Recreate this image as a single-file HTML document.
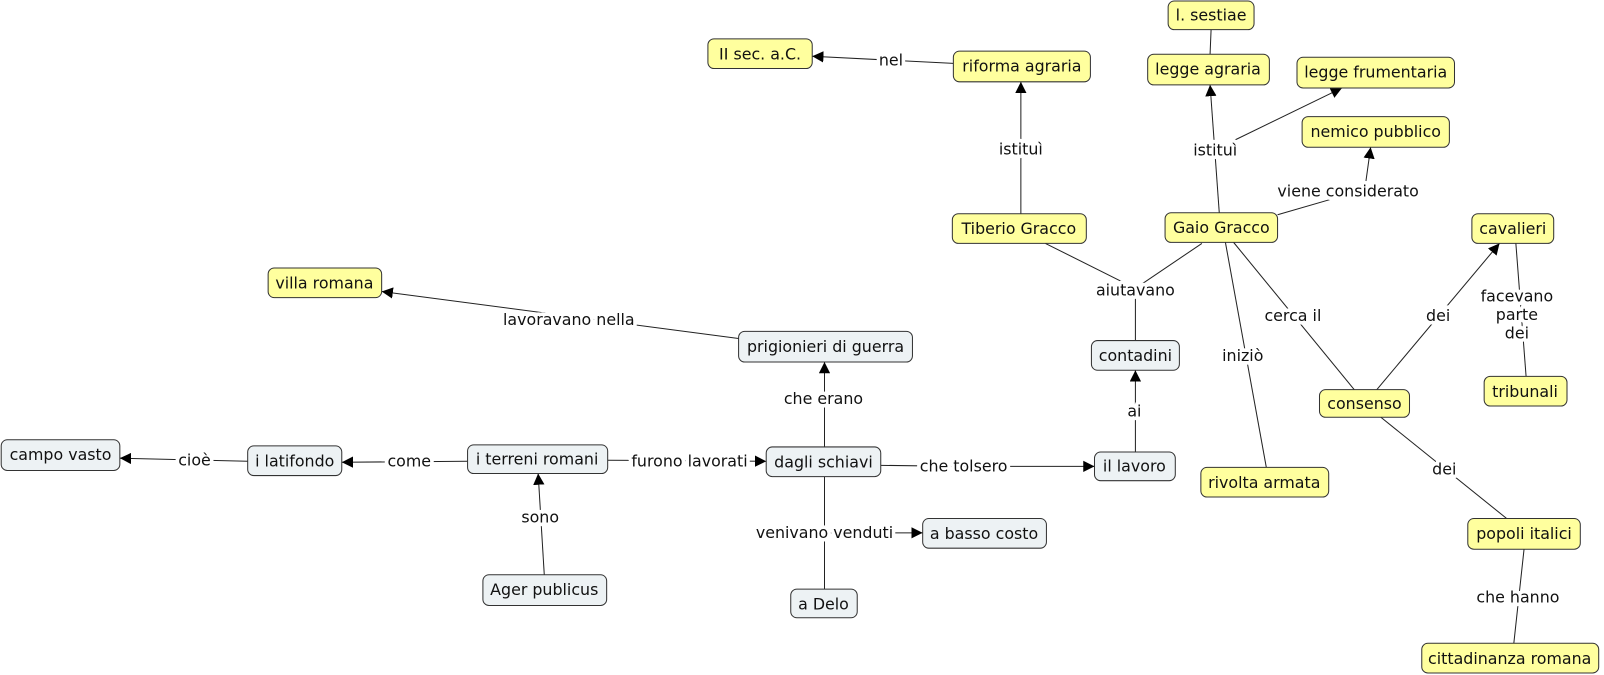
<!DOCTYPE html>
<html><head><meta charset="utf-8"><style>
html,body{margin:0;padding:0;background:#fff;width:1604px;height:675px;overflow:hidden}
svg{display:block}
text{font-family:"DejaVu Sans","Liberation Sans",sans-serif;font-size:15.5px;fill:#111}
.lab text{stroke:#fff;stroke-width:7px;paint-order:stroke;stroke-linejoin:round}
.y{fill:#ffff9e;stroke:#333;stroke-width:1}
.b{fill:#edf2f4;stroke:#333;stroke-width:1}
.l{stroke:#222;stroke-width:1;fill:none}
</style></head><body>
<svg width="1604" height="675" viewBox="0 0 1568 660" xmlns="http://www.w3.org/2000/svg">
<defs><marker id="a" viewBox="0 0 10 10" refX="10" refY="5" markerWidth="11" markerHeight="11" orient="auto" markerUnits="userSpaceOnUse"><path d="M0,0L10,5L0,10z" fill="#000"/></marker></defs>
<g class="l">
<line x1="932" y1="62" x2="794" y2="55" marker-end="url(#a)"/>
<line x1="998" y1="209" x2="998" y2="80" marker-end="url(#a)"/>
<line x1="1184" y1="29" x2="1183" y2="53"/>
<line x1="1192" y1="208" x2="1183" y2="83" marker-end="url(#a)"/>
<line x1="1205" y1="138" x2="1312" y2="86" marker-end="url(#a)"/>
<line x1="1249" y1="210" x2="1318" y2="190"/><line x1="1335" y1="180" x2="1340" y2="144" marker-end="url(#a)"/>
<line x1="1022" y1="238" x2="1110" y2="282"/><line x1="1175" y1="238" x2="1110" y2="282"/><line x1="1110" y1="285" x2="1110" y2="333"/>
<line x1="1110" y1="442" x2="1110" y2="362" marker-end="url(#a)"/>
<line x1="1198" y1="237" x2="1238" y2="457"/>
<line x1="1206" y1="237" x2="1324" y2="381"/>
<line x1="1346" y1="381" x2="1466" y2="238" marker-end="url(#a)"/>
<line x1="1482" y1="238" x2="1492" y2="368"/>
<line x1="1350" y1="408" x2="1473" y2="507"/>
<line x1="1490" y1="537" x2="1480" y2="629"/>
<line x1="722" y1="331" x2="373" y2="285" marker-end="url(#a)"/>
<line x1="806" y1="437" x2="806" y2="354" marker-end="url(#a)"/>
<line x1="861" y1="455" x2="940" y2="456"/><line x1="940" y1="456" x2="1070" y2="456" marker-end="url(#a)"/>
<line x1="806" y1="466" x2="806" y2="576"/>
<line x1="806" y1="521" x2="902" y2="521" marker-end="url(#a)"/>
<line x1="594" y1="450" x2="749" y2="451" marker-end="url(#a)"/>
<line x1="457" y1="451" x2="334" y2="452" marker-end="url(#a)"/>
<line x1="242" y1="451" x2="117" y2="448" marker-end="url(#a)"/>
<line x1="532" y1="562" x2="526" y2="463" marker-end="url(#a)"/>
</g>
<g>
<rect class="y" x="692" y="38" width="102" height="29" rx="6"/>
<rect class="y" x="932" y="50" width="134" height="30" rx="6"/>
<rect class="y" x="1142" y="1" width="84" height="28" rx="6"/>
<rect class="y" x="1122" y="53" width="119" height="30" rx="6"/>
<rect class="y" x="1268" y="56" width="154" height="30" rx="6"/>
<rect class="y" x="1273" y="114" width="144" height="30" rx="6"/>
<rect class="y" x="931" y="209" width="131" height="29" rx="6"/>
<rect class="y" x="1139" y="208" width="110" height="29" rx="6"/>
<rect class="y" x="1439" y="209" width="80" height="29" rx="6"/>
<rect class="y" x="262" y="262" width="111" height="29" rx="6"/>
<rect class="b" x="722" y="324" width="170" height="30" rx="6"/>
<rect class="b" x="1067" y="333" width="86" height="29" rx="6"/>
<rect class="y" x="1290" y="381" width="88" height="27" rx="6"/>
<rect class="y" x="1451" y="368" width="81" height="29" rx="6"/>
<rect class="b" x="1" y="430" width="116" height="30" rx="6"/>
<rect class="b" x="242" y="436" width="92" height="29" rx="6"/>
<rect class="b" x="457" y="435" width="137" height="28" rx="6"/>
<rect class="b" x="749" y="437" width="112" height="29" rx="6"/>
<rect class="b" x="1070" y="442" width="79" height="28" rx="6"/>
<rect class="y" x="1174" y="457" width="125" height="29" rx="6"/>
<rect class="b" x="902" y="507" width="121" height="29" rx="6"/>
<rect class="y" x="1435" y="507" width="110" height="30" rx="6"/>
<rect class="b" x="472" y="562" width="121" height="30" rx="6"/>
<rect class="b" x="773" y="576" width="65" height="28" rx="6"/>
<rect class="y" x="1390" y="629" width="173" height="29" rx="6"/>
</g>
<g text-anchor="middle">
<text x="743" y="58">II sec. a.C.</text>
<text x="999" y="70">riforma agraria</text>
<text x="1184" y="20">l. sestiae</text>
<text x="1181" y="73">legge agraria</text>
<text x="1345" y="76">legge frumentaria</text>
<text x="1345" y="134">nemico pubblico</text>
<text x="996" y="229">Tiberio Gracco</text>
<text x="1194" y="228">Gaio Gracco</text>
<text x="1479" y="229">cavalieri</text>
<text x="317" y="282">villa romana</text>
<text x="807" y="344">prigionieri di guerra</text>
<text x="1110" y="353">contadini</text>
<text x="1334" y="400">consenso</text>
<text x="1491" y="388">tribunali</text>
<text x="59" y="450">campo vasto</text>
<text x="288" y="456">i latifondo</text>
<text x="525" y="454">i terreni romani</text>
<text x="805" y="457">dagli schiavi</text>
<text x="1109" y="461">il lavoro</text>
<text x="1236" y="477">rivolta armata</text>
<text x="962" y="527">a basso costo</text>
<text x="1490" y="527">popoli italici</text>
<text x="532" y="582">Ager publicus</text>
<text x="805" y="596">a Delo</text>
<text x="1476" y="649">cittadinanza romana</text>
</g>
<g class="lab" text-anchor="middle">
<text x="871" y="64">nel</text>
<text x="998" y="151">istituì</text>
<text x="1188" y="152">istituì</text>
<text x="1318" y="192">viene considerato</text>
<text x="1110" y="289">aiutavano</text>
<text x="1109" y="407">ai</text>
<text x="1215" y="353">iniziò</text>
<text x="1264" y="314">cerca il</text>
<text x="1406" y="314">dei</text>
<text x="1483" y="295">facevano</text>
<text x="1483" y="313">parte</text>
<text x="1483" y="331">dei</text>
<text x="1412" y="464">dei</text>
<text x="1484" y="589">che hanno</text>
<text x="556" y="318">lavoravano nella</text>
<text x="805" y="395">che erano</text>
<text x="942" y="461">che tolsero</text>
<text x="806" y="526">venivano venduti</text>
<text x="674" y="456">furono lavorati</text>
<text x="400" y="456">come</text>
<text x="190" y="455">cioè</text>
<text x="528" y="511">sono</text>
</g>
</svg>
</body></html>
